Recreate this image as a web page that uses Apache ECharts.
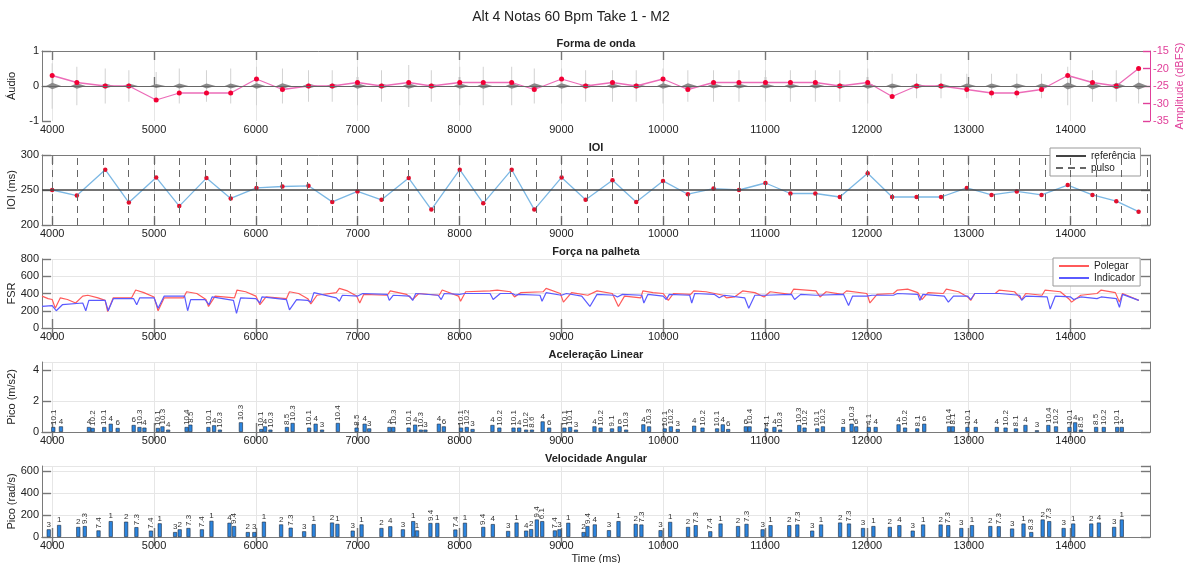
<!DOCTYPE html>
<html>
<head>
<meta charset="utf-8">
<script src="https://cdn.jsdelivr.net/npm/echarts@6/dist/echarts.min.js"></script>
<style>
html,body{margin:0;padding:0;background:#fff;}
#main{width:1189px;height:563px;}
</style>
</head>
<body>
<div id="main"></div>
<script>
// eixo do tempo
var xTicks = [4000,5000,6000,7000,8000,9000,10000,11000,12000,13000,14000];

// instantes das notas (ms)
var onsetTime = [4000,4242,4521,4753,5021,5248,5515,5753,6006,6261,6517,6750,6998,7234,7501,7723,8002,8233,8512,8734,9002,9238,
  9502,9735,9998,10242,10494,10744,11004,11249,11494,11734,12008,12248,12488,12728,12981,13224,13472,13715,13972,14215,14449,14668];
// amplitude de cada nota (dBFS)
var ampDb = [-22,-24,-25,-25,-29,-27,-27,-27,-23,-26,-25,-25,-24,-25,-24,-25,-24,-24,-24,-26,-23,-25,
  -24,-25,-23,-26,-24,-24,-24,-24,-24,-25,-24,-28,-25,-25,-26,-27,-27,-26,-22,-24,-25,-20];
// pico do audio em cada nota (normalizado)
var wavePeak = [0.65,0.55,0.5,0.45,0.4,0.5,0.45,0.5,0.55,0.5,0.45,0.45,0.55,0.45,0.6,0.45,0.55,0.55,0.55,0.5,0.5,0.45,
  0.45,0.45,0.5,0.45,0.45,0.45,0.45,0.45,0.45,0.45,0.5,0.35,0.35,0.35,0.35,0.35,0.35,0.35,0.55,0.45,0.45,0.5];
var waveCore = [0.09,0.08,0.07,0.07,0.06,0.07,0.07,0.07,0.08,0.08,0.07,0.07,0.08,0.07,0.08,0.07,0.08,0.08,0.08,0.08,0.08,0.07,
  0.07,0.07,0.08,0.08,0.07,0.07,0.07,0.07,0.07,0.07,0.08,0.07,0.07,0.07,0.07,0.07,0.07,0.07,0.1,0.1,0.09,0.1];

// IOI (ms)
var ioi = [250,242,279,232,268,227,267,238,253,255,256,233,248,236,267,222,279,231,279,222,268,236,
  264,233,263,244,252,250,260,245,245,240,274,240,240,240,253,243,248,243,257,243,234,219];
var refIOI = 250;
var pulseTime = [4000,4250,4500,4750,5000,5250,5500,5750,6000,6250,6500,6750,7000,7250,7500,7750,8000,8250,8500,8750,9000,9250,
  9500,9750,10000,10250,10500,10750,11000,11250,11500,11750,12000,12250,12500,12750,13000,13250,13500,13750,14000,14250,14500,14750];

// forca na palheta (FSR)
var polegar = [[3900,370],[3960,340],[4000,330],[4030,230],[4080,350],[4150,330],[4230,290],[4300,370],[4350,380],[4450,350],[4520,320],[4545,190],
  [4600,350],[4780,350],[4820,440],[4900,410],[5000,360],[5040,200],[5100,350],[5290,350],[5320,420],[5420,400],[5510,330],[5535,250],[5600,370],
  [5790,350],[5815,440],[5900,420],[6000,370],[6040,270],[6100,360],[6300,340],[6330,420],[6420,400],[6510,340],[6540,280],[6600,380],[6790,410],
  [6820,460],[6900,430],[6990,370],[7020,290],[7060,390],[7290,380],[7320,430],[7480,390],[7540,330],[7600,400],[7800,380],[7830,440],[7990,370],
  [8010,310],[8060,420],[8300,430],[8370,440],[8500,420],[8540,360],[8600,410],[8820,420],[8850,460],[8990,400],[9020,300],[9100,410],[9260,380],
  [9350,430],[9500,400],[9560,250],[9620,370],[9780,350],[9800,430],[9900,410],[10000,400],[10050,320],[10100,400],[10270,390],[10300,430],
  [10420,420],[10590,380],[10620,350],[10700,360],[10780,430],[10900,410],[10990,360],[11050,420],[11250,390],[11280,450],[11500,430],[11540,360],
  [11600,420],[11760,390],[11800,430],[12000,400],[12030,290],[12100,390],[12260,400],[12300,440],[12400,450],[12500,410],[12540,330],[12600,410],
  [12750,400],[12780,450],[12900,420],[12990,360],[13020,320],[13060,400],[13260,400],[13300,440],[13450,420],[13520,330],[13560,400],[13720,380],
  [13750,440],[13900,420],[13990,330],[14010,300],[14100,380],[14260,400],[14300,440],[14440,410],[14480,300],[14510,400],[14670,320]];
var indicador = [[3900,250],[4000,260],[4040,200],[4100,270],[4300,290],[4330,200],[4360,320],[4520,320],[4550,200],[4600,340],[4800,340],[4830,270],
  [4860,350],[5000,350],[5040,230],[5100,370],[5300,370],[5330,200],[5360,330],[5500,330],[5540,270],[5570,360],[5780,320],[5810,170],[5850,350],
  [6000,340],[6040,290],[6060,360],[6300,330],[6330,210],[6400,330],[6510,320],[6540,300],[6570,410],[6790,350],[6820,310],[6850,380],[7000,370],
  [7050,400],[7290,390],[7310,320],[7350,380],[7510,370],[7540,320],[7570,400],[7790,380],[7820,330],[7850,400],[8000,390],[8050,400],[8300,400],
  [8330,330],[8400,400],[8520,400],[8550,380],[8580,390],[8790,380],[8810,310],[8850,410],[9000,380],[9050,400],[9200,370],[9280,250],[9350,390],
  [9520,380],[9550,360],[9600,390],[9790,380],[9810,290],[9850,390],[10000,370],[10030,330],[10060,390],[10260,380],[10280,290],[10310,400],
  [10500,390],[10550,350],[10600,380],[10800,350],[10840,230],[10900,380],[11000,380],[11260,390],[11290,330],[11350,390],[11500,380],[11770,390],
  [11820,260],[11860,370],[12000,370],[12050,380],[12260,380],[12300,400],[12500,390],[12520,320],[12550,390],[12760,370],[12800,300],[12850,370],
  [12990,370],[13020,330],[13060,400],[13300,400],[13500,380],[13520,320],[13560,370],[13770,360],[13800,220],[13850,370],[14000,360],[14030,330],
  [14100,360],[14260,340],[14300,360],[14450,340],[14480,240],[14510,390],[14670,320]];

// aceleracao linear (pico, m/s2)
var accTime = [4011,4086,4361,4398,4511,4575,4643,4800,4857,4906,5038,5083,5139,5320,5357,5534,5590,5647,5853,6053,6090,6143,6305,6361,6523,6587,
  6650,6805,6989,7068,7113,7312,7350,7500,7564,7620,7665,7797,7846,8015,8071,8128,8323,8391,8530,8586,8654,8711,8816,8880,9030,9086,9143,9325,
  9385,9497,9572,9636,9805,9861,10015,10075,10143,10304,10386,10529,10585,10638,10811,10848,11013,11092,11148,11336,11388,11512,11568,11767,
  11850,11895,12019,12086,12311,12375,12495,12563,12807,12844,12987,13069,13276,13362,13463,13557,13670,13782,13857,13989,14045,14101,14251,
  14326,14458,14503];
var accValue = [0.32,0.36,0.32,0.26,0.32,0.53,0.26,0.45,0.32,0.28,0.26,0.36,0.15,0.32,0.47,0.32,0.43,0.15,0.62,0.19,0.36,0.15,0.32,0.58,0.28,0.53,
  0.15,0.58,0.28,0.53,0.23,0.32,0.32,0.28,0.47,0.15,0.15,0.53,0.36,0.28,0.32,0.19,0.45,0.28,0.28,0.28,0.15,0.15,0.68,0.28,0.28,0.32,0.15,0.36,
  0.28,0.23,0.36,0.15,0.49,0.36,0.23,0.36,0.19,0.40,0.28,0.23,0.49,0.19,0.36,0.36,0.23,0.32,0.15,0.45,0.28,0.23,0.36,0.32,0.53,0.36,0.32,0.32,
  0.49,0.28,0.23,0.53,0.36,0.36,0.32,0.32,0.32,0.28,0.23,0.45,0.11,0.45,0.36,0.32,0.62,0.15,0.32,0.32,0.32,0.32];
var accLabel = ['10.1','4','4','10.2','10.1','4','6','6','10.3','4','10.1','10.3','4','10.4','8.5','10.1','4','10.3','10.3','10.1','4','10.3',
  '8.5','10.3','10.1','4','3','10.4','8.5','4','3','4','10.3','10.1','4','10.3','3','4','6','10.1','10.2','3','4','10.2','10.1','4','10.2','8.6',
  '4','6','10.1','10.1','3','4','10.2','9.1','6','10.3','4','10.3','10.1','10.2','3','4','10.2','10.1','4','6','6','10.4','4.1','4','10.3','10.3',
  '10.2','10.1','10.2','3','10.3','6','4.1','4','4','10.2','8.1','6','10.4','8.1','10.1','4','4','10.2','8.1','4','3','10.4','10.2','10.1','4',
  '8.5','8.5','10.2','10.1','4'];

// velocidade angular (pico, rad/s)
var velTime = [3966,4068,4256,4320,4455,4575,4726,4827,4970,5056,5207,5252,5338,5470,5564,5741,5786,5921,5985,6079,6248,6342,6474,6568,6748,
  6801,6951,7038,7233,7320,7444,7545,7583,7714,7782,7959,8053,8233,8327,8477,8560,8654,8703,8759,8812,8936,8981,9068,9218,9256,9328,9467,
  9561,9730,9786,9974,10068,10244,10319,10462,10563,10735,10818,10976,11054,11238,11317,11463,11550,11737,11824,11962,12064,12225,12319,
  12450,12552,12724,12799,12927,13032,13212,13295,13426,13538,13614,13726,13790,13932,14026,14203,14278,14428,14503];
var velValue = [70,110,92,100,60,145,140,90,58,125,45,70,82,70,148,130,100,45,45,140,115,85,52,118,132,120,58,115,82,98,70,145,60,128,128,68,
  130,92,118,55,132,58,72,160,145,60,70,130,45,100,115,62,145,120,114,62,138,92,108,52,123,100,120,70,108,108,114,58,114,132,123,82,100,92,
  108,58,114,114,108,82,108,100,98,77,123,45,160,145,82,123,123,132,92,160];
var velLabel = ['3','1','2','9.3','7.4','1','2','7.3','7.4','1','3','2','7.3','7.4','1','4','9.4','2','3','1','2','7.3','3','1','2','1','3','1',
  '2','4','3','1','1','9.4','1','7.4','1','9.4','4','3','1','4','2','9.4','6.1','7.4','3','1','2','9.4','4','3','1','2','7.3','3','1','2','7.3',
  '7.4','1','2','7.3','3','1','2','7.3','3','1','2','7.3','3','1','2','4','3','1','2','7.3','3','1','2','7.3','3','1','8.3','2','7.3','3','1',
  '2','4','3','1'];

var FONT = '"Liberation Sans", Arial, Helvetica, sans-serif';
var xMin = 3900, xMax = 14780;
var gridPos = [[51,70],[155,70],[259,69],[362,70],[466,71]];
var yCfg = [
  {min:-1, max:1, interval:1, name:'Áudio', split:false},
  {min:200, max:300, interval:50, name:'IOI (ms)', split:false},
  {min:0, max:800, interval:200, name:'FSR', split:true},
  {min:0, max:4.5, interval:2, name:'Pico (m/s2)', split:true},
  {min:0, max:650, interval:200, name:'Pico (rad/s)', split:true}
];
var titles = ['Forma de onda','IOI','Força na palheta','Aceleração Linear','Velocidade Angular'];

var frameColor = '#7a7a7a';
var tickStyle = {color:'#777', width:1.4};
var grids = [], xAxes = [], yAxes = [], titleList = [];
titleList.push({text:'Alt 4 Notas 60 Bpm Take 1 - M2', left:571, top:10, textAlign:'center', padding:0,
  textStyle:{fontSize:14, fontWeight:'normal', color:'#222', fontFamily:FONT}});

function plain(v) { return String(v); }

gridPos.forEach(function (gp, g) {
  grids.push({left:42, width:1108, top:gp[0], height:gp[1], containLabel:false, outerBoundsMode:'none'});
  titleList.push({text:titles[g], left:596, top:gp[0]-13, textAlign:'center', padding:0,
    textStyle:{fontSize:11, fontWeight:'bold', color:'#222', fontFamily:FONT}});
  xAxes.push({
    gridIndex:g, type:'value', min:xMin, max:xMax, position:'bottom',
    axisLine:{lineStyle:{color:frameColor}},
    axisTick:{inside:true, length:9, customValues:xTicks, lineStyle:tickStyle},
    axisLabel:{customValues:xTicks, formatter:plain, color:'#222', fontSize:11, margin:3, fontFamily:FONT},
    splitLine:{show:true, lineStyle:{color:'#e6e6e6'}},
    name: g === 4 ? 'Time (ms)' : '', nameLocation:'middle', nameGap:16, nameMoveOverlap:false,
    nameTextStyle:{fontSize:11, color:'#222', fontFamily:FONT}
  });
  xAxes.push({
    gridIndex:g, type:'value', min:xMin, max:xMax, position:'top',
    axisLine:{lineStyle:{color:frameColor}},
    axisTick:{inside:true, length:9, customValues:xTicks, lineStyle:tickStyle},
    axisLabel:{show:false}, splitLine:{show:false}
  });
  var c = yCfg[g];
  yAxes.push({
    gridIndex:g, type:'value', min:c.min, max:c.max, interval:c.interval, position:'left',
    axisLine:{show:true, lineStyle:{color:frameColor}},
    axisTick:{show:true, inside:true, length:9, lineStyle:tickStyle},
    axisLabel:{color:'#222', fontSize:11, margin:3, fontFamily:FONT, showMaxLabel: g >= 3 ? false : true},
    splitLine:{show:c.split, lineStyle:{color:'#e6e6e6'}},
    name:c.name, nameLocation:'middle', nameGap:25, nameRotate:90, nameMoveOverlap:false,
    nameTextStyle:{fontSize:11, color:'#222', fontFamily:FONT}
  });
  if (g === 0) {
    yAxes.push({
      gridIndex:0, type:'value', min:-35, max:-15, interval:5, position:'right',
      axisLine:{show:true, lineStyle:{color:'#e0409a'}},
      axisTick:{show:true, inside:true, length:7, lineStyle:{color:'#e0409a', width:1.4}},
      axisLabel:{color:'#e0409a', fontSize:11, margin:3, fontFamily:FONT},
      splitLine:{show:false},
      name:'Amplitude (dBFS)', nameLocation:'middle', nameGap:24, nameRotate:90, nameMoveOverlap:false,
      nameTextStyle:{fontSize:11, color:'#e0409a', fontFamily:FONT}
    });
  } else {
    yAxes.push({
      gridIndex:g, type:'value', min:c.min, max:c.max, interval:c.interval, position:'right',
      axisLine:{show:true, lineStyle:{color:frameColor}},
      axisTick:{show:true, inside:true, length:9, lineStyle:tickStyle},
      axisLabel:{show:false}, splitLine:{show:false}
    });
  }
});

function pairs(xs, ys) {
  return xs.map(function (x, i) { return [x, ys[i]]; });
}

function barItems(times, vals, labs) {
  return times.map(function (t, i) {
    var rot = labs[i].length > 1;
    return {
      value:[t, vals[i]],
      label: rot ? {rotate:90, align:'left', verticalAlign:'middle', position:'top', distance:2}
                 : {rotate:0, align:'center', verticalAlign:'bottom', position:'top', distance:1}
    };
  });
}

function barSeries(g, times, vals, labs) {
  return {
    type:'bar', xAxisIndex:2*g, yAxisIndex:2*g, barWidth:4,
    data: barItems(times, vals, labs),
    itemStyle:{color:'#2b84de', borderColor:'#1f2a3a', borderWidth:0.6},
    label:{show:true, fontSize:8, color:'#333', fontFamily:FONT,
      formatter:function (p) { return labs[p.dataIndex]; }},
    z:3
  };
}

var waveData = onsetTime.map(function (t, i) { return [t, wavePeak[i], waveCore[i]]; });

var legendBase = {orient:'vertical', backgroundColor:'#fff', borderColor:'#999', borderWidth:1,
  padding:[3,5,3,5], itemGap:2, itemWidth:30, itemHeight:8, itemStyle:{opacity:0},
  textStyle:{fontSize:10, color:'#222', fontFamily:FONT}};

var chart = echarts.init(document.getElementById('main'), null, {renderer:'canvas'});
chart.setOption({
  animation:false,
  backgroundColor:'#fff',
  title:titleList,
  grid:grids,
  xAxis:xAxes,
  yAxis:yAxes,
  legend:[
    echarts.util.merge({data:['referência','pulso'], left:1050, top:148}, legendBase),
    echarts.util.merge({data:['Polegar','Indicador'], left:1053, top:258}, legendBase)
  ],
  series:[
    {
      type:'custom', xAxisIndex:0, yAxisIndex:0, data:waveData, encode:{x:0, y:1}, z:1,
      renderItem:function (params, api) {
        var t = api.value(0), p = api.value(1), c = api.value(2);
        var top = api.coord([t, p]), bot = api.coord([t, -p]);
        var ct = api.coord([t, c]), cb = api.coord([t, -c]), mid = api.coord([t, 0]);
        return {type:'group', children:[
          {type:'line', shape:{x1:top[0], y1:top[1], x2:bot[0], y2:bot[1]}, style:{stroke:'#d2d2d2', lineWidth:1}},
          {type:'polygon', shape:{points:[[mid[0]-6, mid[1]], ct, [mid[0]+9, mid[1]], cb]}, style:{fill:'#8a8a8a'}}
        ]};
      },
      markLine:{symbol:'none', silent:true, label:{show:false}, lineStyle:{color:'#666', type:'solid', width:1},
        data:[{yAxis:0}]}
    },
    {
      type:'line', name:'Amplitude', xAxisIndex:0, yAxisIndex:1, data:pairs(onsetTime, ampDb),
      lineStyle:{color:'#ec6cb8', width:1.3}, symbol:'circle', symbolSize:5,
      itemStyle:{color:'#f20035'}, z:4
    },
    {
      type:'line', name:'pulso', xAxisIndex:2, yAxisIndex:2, data:[], symbol:'none',
      lineStyle:{color:'#666', type:[7,5], width:1}, itemStyle:{color:'#666'},
      markLine:{symbol:'none', silent:true, label:{show:false}, lineStyle:{color:'#666', type:[7,5], width:1},
        data:pulseTime.map(function (t) { return {xAxis:t}; })}
    },
    {
      type:'line', name:'referência', xAxisIndex:2, yAxisIndex:2, data:[], symbol:'none',
      lineStyle:{color:'#444', type:'solid', width:1.5}, itemStyle:{color:'#444'},
      markLine:{symbol:'none', silent:true, label:{show:false}, lineStyle:{color:'#444', type:'solid', width:1.5},
        data:[{yAxis:refIOI}]}
    },
    {
      type:'line', name:'IOI', xAxisIndex:2, yAxisIndex:2, data:pairs(onsetTime, ioi),
      lineStyle:{color:'#7cb8e4', width:1.3}, symbol:'circle', symbolSize:4.5,
      itemStyle:{color:'#e0102e'}, z:4
    },
    {
      type:'line', name:'Polegar', xAxisIndex:4, yAxisIndex:4, data:polegar, symbol:'none',
      lineStyle:{color:'#ff5a5a', width:1.2}, itemStyle:{color:'#ff5a5a'}, z:3
    },
    {
      type:'line', name:'Indicador', xAxisIndex:4, yAxisIndex:4, data:indicador, symbol:'none',
      lineStyle:{color:'#5a5aff', width:1.2}, itemStyle:{color:'#5a5aff'}, z:4
    },
    barSeries(3, accTime, accValue, accLabel),
    barSeries(4, velTime, velValue, velLabel)
  ]
});
</script>
</body>
</html>
